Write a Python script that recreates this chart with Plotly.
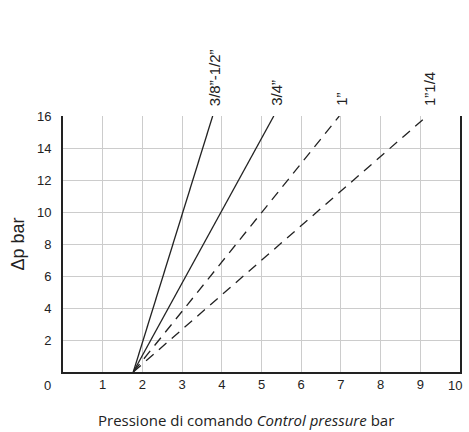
import plotly.graph_objects as go

# Data
series_names = ['3/8”-1/2”', '3/4”', '1”', '1”1/4']
start_x = [1.77, 1.77, 1.77, 1.77]
start_y = [0, 0, 0, 0]
end_x = [3.77, 5.31, 6.96, 9.17]
end_y = [16, 16, 16, 16]
dashes = ['solid', 'solid', '10px,7px', '10px,7px']

x_ticks = [1, 2, 3, 4, 5, 6, 7, 8, 9, 10]
x_ticklabels = ['1', '2', '3', '4', '5', '6', '7', '8', '9', '']
y_ticks = [2, 4, 6, 8, 10, 12, 14, 16]

fig = go.Figure()
for name, x0, y0, x1, y1, d in zip(series_names, start_x, start_y, end_x, end_y, dashes):
    fig.add_trace(go.Scatter(x=[x0, x1], y=[y0, y1], mode='lines', name=name,
                             line=dict(color='#222222', width=1.3, dash=d),
                             showlegend=False, hoverinfo='skip'))
    fig.add_annotation(x=x1, y=y1, text=name, textangle=-90, showarrow=False,
                       xanchor='center', yanchor='bottom', xshift=2, yshift=8,
                       font=dict(family='Liberation Sans, Arial', size=15, color='#222222'))

fig.add_annotation(xref='paper', yref='paper', x=0, y=0, text='0', showarrow=False,
                   xanchor='right', yanchor='top', xshift=-10, yshift=-4,
                   font=dict(family='Liberation Sans, Arial', size=13, color='#222222'))
# last x tick label, pulled in from the right edge as in the reference
fig.add_annotation(x=x_ticks[-1], yref='paper', y=0, text=str(x_ticks[-1]), showarrow=False,
                   xanchor='center', yanchor='top', xshift=-5, yshift=-4,
                   font=dict(family='Liberation Sans, Arial', size=13, color='#222222'))

# x-axis title (sits slightly left of the plot centre in the reference)
fig.add_annotation(xref='paper', yref='paper', x=0.46, y=0, yshift=-36,
                   text='Pressione di comando <i>Control pressure</i> bar',
                   showarrow=False, xanchor='center', yanchor='top',
                   font=dict(family='Open Sans', size=15, color='#222222'))

fig.update_layout(
    width=469, height=432,
    margin=dict(l=62.5, r=8.5, t=116, b=60.3),
    plot_bgcolor='white', paper_bgcolor='white',
    font=dict(family='Liberation Sans, Arial', size=13, color='#222222'),
    xaxis=dict(range=[0, 10], tickvals=x_ticks, ticktext=x_ticklabels,
               showgrid=True, gridcolor='#cccccc',
               gridwidth=1, showline=True, linecolor='#222222', linewidth=1.5,
               zeroline=False, ticks=''),
    yaxis=dict(range=[0, 16], tickvals=y_ticks, showgrid=True, gridcolor='#cccccc',
               gridwidth=1, showline=True, linecolor='#222222', linewidth=1.8,
               mirror=True,
               zeroline=False, ticks='outside', ticklen=7, tickcolor='rgba(0,0,0,0)',
               title=dict(text='Δp bar', font=dict(family='Liberation Sans, Arial', size=18,
                                                   color='#222222'), standoff=8)),
)

# remove the default page margin so the 469x432 figure fills the window exactly
fig.write_html('out.html', config={'displayModeBar': False},
               post_script="document.body.style.margin='0';document.body.style.overflow='hidden';")
